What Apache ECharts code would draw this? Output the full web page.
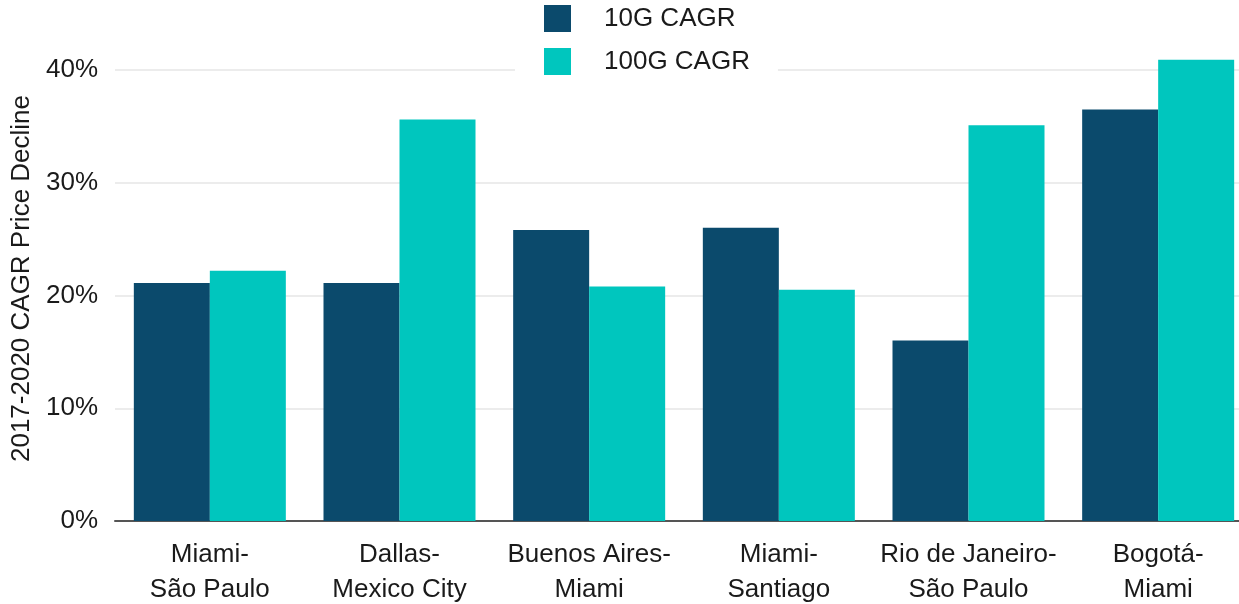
<!DOCTYPE html>
<html>
<head>
<meta charset="utf-8">
<script src="https://cdn.jsdelivr.net/npm/echarts@6/dist/echarts.min.js"></script>
<style>
  html, body { margin: 0; padding: 0; background: #fff; }
  #chart { width: 1239px; height: 604px; }
</style>
</head>
<body>
<div id="chart"></div>
<script>
// data
const routes = [
  'Miami-\nSão Paulo',
  'Dallas-\nMexico City',
  'Buenos Aires-\nMiami',
  'Miami-\nSantiago',
  'Rio de Janeiro-\nSão Paulo',
  'Bogotá-\nMiami'
]
const cagr10G = [21.1, 21.1, 25.8, 26.0, 16.0, 36.5]
const cagr100G = [22.2, 35.6, 20.8, 20.5, 35.1, 40.9]
const yTicks = [0, 10, 20, 30, 40]

const font = 'Liberation Sans, Arial, Helvetica, sans-serif'
const chart = echarts.init(document.getElementById('chart'))

chart.setOption({
  animation: false,
  textStyle: { fontFamily: font },
  legend: {
    orient: 'vertical',
    left: 515,
    top: 0,
    padding: [5, 28, 5, 29],
    backgroundColor: '#fff',
    itemWidth: 27,
    itemHeight: 27,
    itemGap: 16,
    icon: 'rect',
    textStyle: { fontSize: 26, lineHeight: 27, color: '#1a1a1a', fontFamily: font, padding: [0, 0, 0, 28] },
    data: ['10G CAGR', '100G CAGR']
  },
  grid: { left: 115, right: -14, top: 70, bottom: 83, outerBoundsMode: 'none' },
  xAxis: {
    type: 'category',
    data: routes,
    axisLine: { lineStyle: { color: '#555', width: 2 } },
    axisTick: { show: false },
    axisLabel: { fontSize: 26, color: '#1a1a1a', margin: 16, lineHeight: 35, interval: 0 }
  },
  yAxis: {
    type: 'value',
    min: yTicks[0],
    max: yTicks[yTicks.length - 1],
    interval: 10,
    name: '2017-2020 CAGR Price Decline',
    nameLocation: 'middle',
    nameGap: 78,
    nameTextStyle: { fontSize: 26, color: '#1a1a1a', padding: [0, 0, 0, 34] },
    axisLine: { show: false },
    axisTick: { show: false },
    axisLabel: { fontSize: 26, color: '#1a1a1a', margin: 17, formatter: v => v + '%' },
    splitLine: { lineStyle: { color: '#ececec', width: 2 } }
  },
  series: [
    {
      name: '10G CAGR',
      type: 'bar',
      data: cagr10G,
      barWidth: 76,
      barGap: '0%',
      clip: false,
      itemStyle: { color: '#0b4a6c' }
    },
    {
      name: '100G CAGR',
      type: 'bar',
      data: cagr100G,
      barWidth: 76,
      barGap: '0%',
      clip: false,
      itemStyle: { color: '#00c6be' }
    }
  ]
})
</script>
</body>
</html>
